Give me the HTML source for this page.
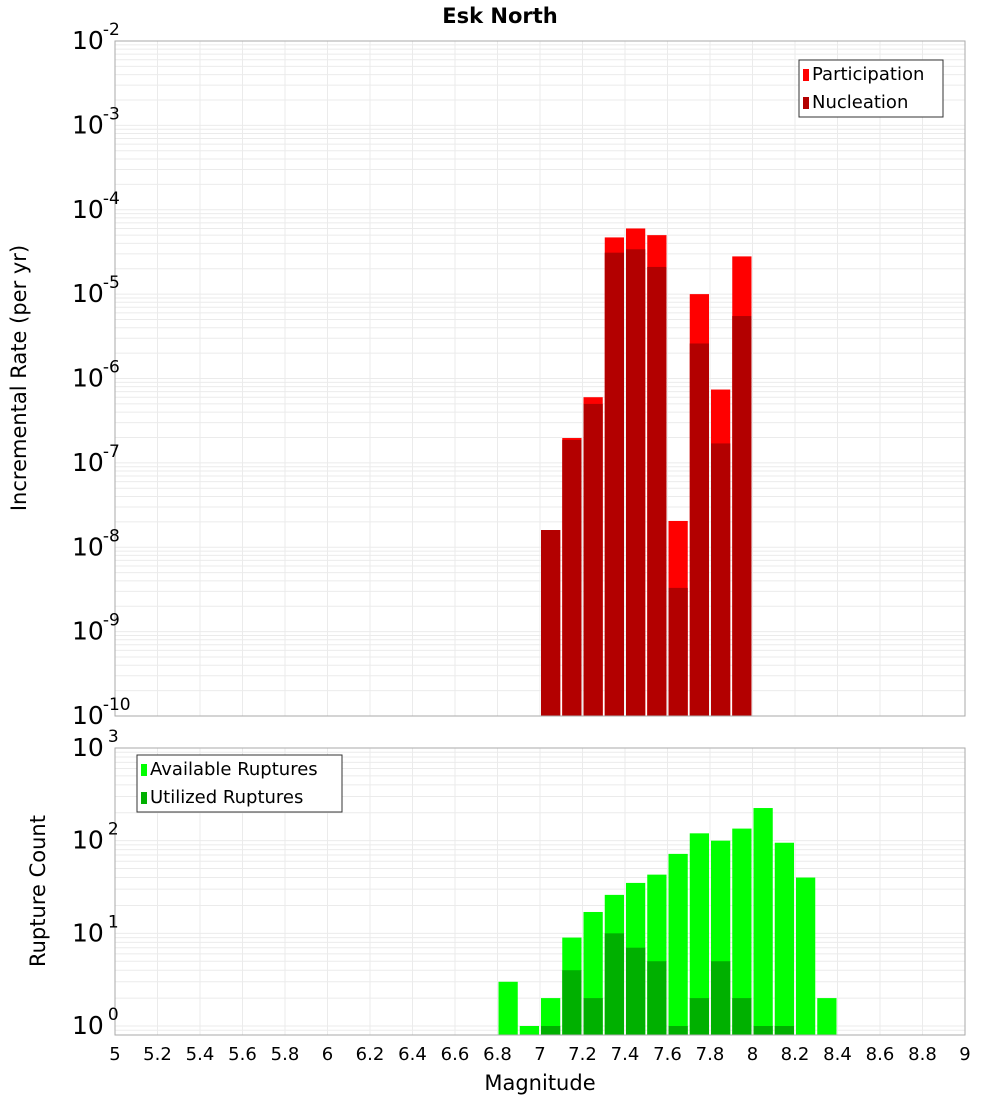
<!DOCTYPE html>
<html><head><meta charset="utf-8"><style>
body{margin:0;background:#fff;}
svg{font-family:"DejaVu Sans","Liberation Sans",sans-serif;display:block}
</style></head><body>
<svg id="c" width="1000" height="1100" viewBox="0 0 1000 1100" xmlns="http://www.w3.org/2000/svg">
<text x="500" y="23" text-anchor="middle" font-size="21" font-weight="bold">Esk North</text>
<g id="g1"></g><g id="g2"></g>
<text x="540" y="1090" text-anchor="middle" font-size="21">Magnitude</text>
<text transform="translate(26,378) rotate(-90)" text-anchor="middle" font-size="21">Incremental Rate (per yr)</text>
<text transform="translate(45,891) rotate(-90)" text-anchor="middle" font-size="21">Rupture Count</text>
</svg>
<script>
const rateMags=[7.05,7.15,7.25,7.35,7.45,7.55,7.65,7.75,7.85,7.95];
const participation=[1.6e-8,1.97e-7,6e-7,4.7e-5,6e-5,5e-5,2.05e-8,1.0e-5,7.4e-7,2.8e-5];
const nucleation=[1.6e-8,1.87e-7,5e-7,3.1e-5,3.4e-5,2.1e-5,3.3e-9,2.6e-6,1.7e-7,5.5e-6];
const countMags=[6.85,6.95,7.05,7.15,7.25,7.35,7.45,7.55,7.65,7.75,7.85,7.95,8.05,8.15,8.25,8.35];
const available=[3,1,2,9,17,26,35,43,72,120,100,135,225,95,40,2];
const utilized=[0,0,1,4,2,10,7,5,1,2,5,2,1,1,0,0];
const xTicks=[5,5.2,5.4,5.6,5.8,6,6.2,6.4,6.6,6.8,7,7.2,7.4,7.6,7.8,8,8.2,8.4,8.6,8.8,9];
const topExps=[-10,-9,-8,-7,-6,-5,-4,-3,-2];
const botExps=[0,1,2,3];

const NS="http://www.w3.org/2000/svg";
const L=115,R=965;
const x=m=>L+(m-5)/4*(R-L);
function mk(p,t,a){const e=document.createElementNS(NS,t);for(const k in a)e.setAttribute(k,a[k]);p.appendChild(e);return e;}
function panel(g,top,bot,lo,hi,dec0,name){
  const y=v=>dec0-(Math.log10(v)-lo)*((dec0-top)/(hi-lo));
  const grid=mk(g,'g',{});
  
  
  for(let e=lo-1;e<=hi;e++)for(let k=1;k<10;k++){const yy=y(k*Math.pow(10,e));if(yy<top||yy>bot)continue;
    mk(grid,'line',{x1:L,x2:R,y1:yy,y2:yy,stroke:'#ebebeb','stroke-width':1});}
  xTicks.forEach(t=>mk(grid,'line',{x1:x(t),x2:x(t),y1:top,y2:bot,stroke:'#ebebeb','stroke-width':1}));
  return y;
}
const g1=document.getElementById('g1'),g2=document.getElementById('g2');
const T1=41,B1=716;
const y1=panel(g1,T1,B1,-10,-2,716,'top');
rateMags.forEach((m,i)=>{
  const r=mk(g1,'rect',{x:x(m-0.05)+1,width:x(0.1)-x(0)-2,y:y1(participation[i]),height:B1-y1(participation[i]),fill:'#ff0000'});
  
  
  const n=mk(g1,'rect',{x:x(m-0.05)+1,width:x(0.1)-x(0)-2,y:y1(nucleation[i]),height:B1-y1(nucleation[i]),fill:'#b30000'});
  
  
});
mk(g1,'rect',{x:L,y:T1,width:R-L,height:B1-T1,fill:'none',stroke:'#aaa'});
topExps.forEach(e=>{const t=mk(g1,'text',{x:72,y:y1(Math.pow(10,e))+8,'font-size':25});
  
  
  t.innerHTML='10<tspan dx="-1" dy="-14" font-size="17">'+e+'</tspan>';});
const T2=748,B2=1035;
const y2=panel(g2,T2,B2,0,3,1026,'bottom');
countMags.forEach((m,i)=>{
  const r=mk(g2,'rect',{x:x(m-0.05)+1,width:x(0.1)-x(0)-2,y:y2(available[i]),height:B2-y2(available[i]),fill:'#00ff00'});
  
  
  if(utilized[i]>0){const u=mk(g2,'rect',{x:x(m-0.05)+1,width:x(0.1)-x(0)-2,y:y2(utilized[i]),height:B2-y2(utilized[i]),fill:'#00b000'});
  
  }
});
mk(g2,'rect',{x:L,y:T2,width:R-L,height:B2-T2,fill:'none',stroke:'#aaa'});
botExps.forEach(e=>{const t=mk(g2,'text',{x:72,y:y2(Math.pow(10,e))+8,'font-size':25});
  
  
  t.innerHTML='10<tspan dx="4" dy="-14" font-size="17">'+e+'</tspan>';});
xTicks.forEach(t=>{const e=mk(g2,'text',{x:x(t),y:1060,'text-anchor':'middle','font-size':18});
  
  
  e.textContent=String(t);});
function legend(g,lx,ly,w,items,name){
  const lg=mk(g,'g',{});
  
  
  mk(lg,'rect',{x:lx,y:ly,width:w,height:57,fill:'#fff',stroke:'#333'});
  items.forEach((it,i)=>{mk(lg,'rect',{x:lx+4,y:ly+9+i*28,width:6,height:12,fill:it[1]});
    const t=mk(lg,'text',{x:lx+13,y:ly+20+i*28,'font-size':18});t.textContent=it[0];});
}
legend(g1,799,60,144,[['Participation','#ff0000'],['Nucleation','#b30000']],'top-legend');
legend(g2,137,755,205,[['Available Ruptures','#00ff00'],['Utilized Ruptures','#00b000']],'bottom-legend');
</script>
</body></html>
